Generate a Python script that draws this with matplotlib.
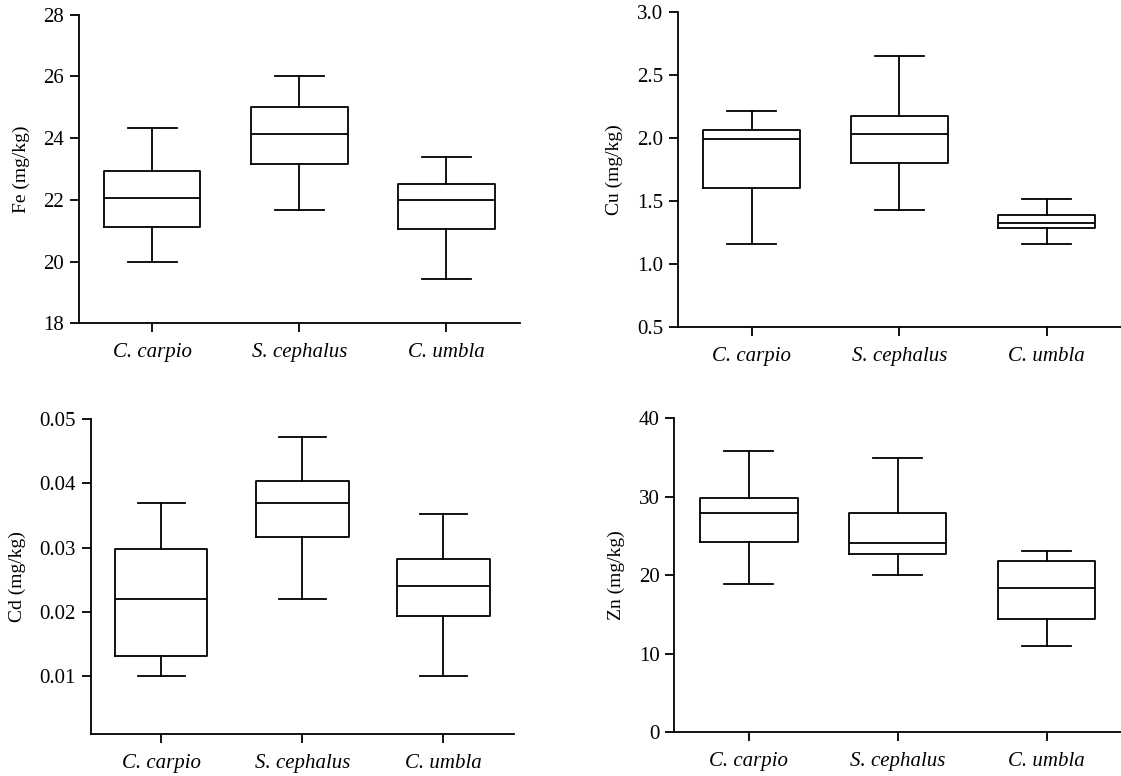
import matplotlib
matplotlib.use("Agg")
import matplotlib.pyplot as plt
from matplotlib.ticker import FormatStrFormatter

plt.rcParams['font.family'] = ['Liberation Serif', 'DejaVu Serif']

species = ["C. carpio", "S. cephalus", "C. umbla"]

# box stats per metal: whisker low, Q1, median, Q3, whisker high
fe_lo = [20.0, 21.66, 19.43]
fe_q1 = [21.12, 23.15, 21.07]
fe_med = [22.06, 24.13, 22.0]
fe_q3 = [22.95, 25.0, 22.52]
fe_hi = [24.33, 26.0, 23.39]

cu_lo = [1.16, 1.43, 1.16]
cu_q1 = [1.60, 1.80, 1.28]
cu_med = [1.99, 2.03, 1.32]
cu_q3 = [2.06, 2.17, 1.39]
cu_hi = [2.21, 2.65, 1.51]

cd_lo = [0.010, 0.022, 0.010]
cd_q1 = [0.0131, 0.0316, 0.0194]
cd_med = [0.022, 0.0369, 0.024]
cd_q3 = [0.0298, 0.0404, 0.0283]
cd_hi = [0.0369, 0.0472, 0.0352]

zn_lo = [18.9, 20.0, 11.0]
zn_q1 = [24.3, 22.7, 14.4]
zn_med = [27.9, 24.1, 18.4]
zn_q3 = [29.85, 27.9, 21.8]
zn_hi = [35.8, 34.95, 23.05]

panels = [
    # rect (left, bottom, width, height) in pixels, label, stats, ylim, ticks, fmt, label x
    ((78.7, 323.3, 441.3, 308.6), "Fe (mg/kg)", (fe_lo, fe_q1, fe_med, fe_q3, fe_hi),
     (18, 28), [18, 20, 22, 24, 26, 28], "%d", 30),
    ((678, 326.7, 442.5, 315.0), "Cu (mg/kg)", (cu_lo, cu_q1, cu_med, cu_q3, cu_hi),
     (0.5, 3.0), [0.5, 1.0, 1.5, 2.0, 2.5, 3.0], "%.1f", 623),
    ((90.7, 734, 423.3, 315.0), "Cd (mg/kg)", (cd_lo, cd_q1, cd_med, cd_q3, cd_hi),
     (0.001, 0.05), [0.01, 0.02, 0.03, 0.04, 0.05], "%.2f", 26),
    ((674.3, 732.3, 446.7, 314.0), "Zn (mg/kg)", (zn_lo, zn_q1, zn_med, zn_q3, zn_hi),
     (0, 40), [0, 10, 20, 30, 40], "%d", 625),
]

W, H = 1121, 776
fig = plt.figure(figsize=(W / 100, H / 100), dpi=100)

for rect, label, st, ylim, yticks, fmt, label_x in panels:
    left, bottom, width, height = rect
    ax = fig.add_axes([left / W, 1 - bottom / H, width / W, height / H])
    lo, q1, med, q3, hi = st
    stats = []
    for i in range(len(species)):
        stats.append({"whislo": lo[i], "q1": q1[i], "med": med[i],
                      "q3": q3[i], "whishi": hi[i], "fliers": []})
    lw = 1.3
    ax.bxp(stats, positions=[1, 2, 3], widths=0.655, showfliers=False,
           boxprops=dict(color="black", linewidth=lw),
           medianprops=dict(color="black", linewidth=lw),
           whiskerprops=dict(color="black", linewidth=lw),
           capprops=dict(color="black", linewidth=lw),
           capwidths=0.33)
    ax.set_xlim(0.5, 3.5)
    ax.set_ylim(*ylim)
    ax.set_yticks(yticks)
    ax.yaxis.set_major_formatter(FormatStrFormatter(fmt))
    ax.set_xticks([1, 2, 3])
    ax.set_xticklabels(species, fontstyle="italic", fontsize=15)
    for s in ["top", "right"]:
        ax.spines[s].set_visible(False)
    for s in ["left", "bottom"]:
        ax.spines[s].set_linewidth(1.3)
    ax.tick_params(axis="both", direction="out", length=6.5, width=1.3,
                   labelsize=15, color="black")
    ax.tick_params(axis="x", pad=8)
    ax.tick_params(axis="y", pad=4)
    ax.set_ylabel(label, fontsize=14)
    ax.yaxis.set_label_coords((label_x - left) / width, 0.5)

fig.savefig("out.png", dpi=100)
